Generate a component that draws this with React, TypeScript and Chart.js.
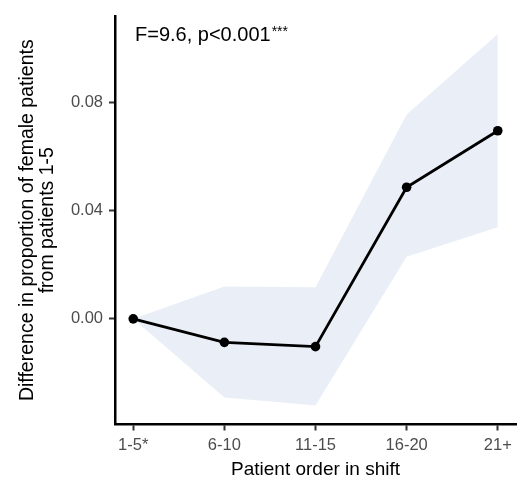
import React, { useEffect, useRef } from "react";
import { Chart, registerables } from "chart.js";

Chart.register(...registerables);

const categories = ["1-5*", "6-10", "11-15", "16-20", "21+"];
const estimate = [0, -0.0087, -0.0103, 0.0487, 0.0696];
const upperCI = [0, 0.012, 0.0117, 0.0756, 0.1054];
const lowerCI = [0, -0.0291, -0.0321, 0.023, 0.0339];
const yTicks = [0, 0.04, 0.08];
const annotationMain = "F=9.6, p<0.001";
const annotationStars = "***";
const xTitle = "Patient order in shift";
const yTitle = ["Difference in proportion of female patients", "from patients 1-5"];

const FONT = "'Liberation Sans', Arial, Helvetica, sans-serif";

const toPts = (arr: number[]) => arr.map((v, i) => ({ x: i, y: v }));

export default function App() {
  const ref = useRef<HTMLCanvasElement | null>(null);

  useEffect(() => {
    const canvas = ref.current;
    if (!canvas) return;

    const annotationPlugin = {
      id: "annot",
      afterDraw(chart: any) {
        const { ctx, chartArea } = chart;
        ctx.save();
        ctx.fillStyle = "#000000";
        ctx.textBaseline = "alphabetic";
        ctx.textAlign = "left";
        ctx.font = `20px ${FONT}`;
        const x0 = chartArea.left + 20;
        const y0 = chartArea.top + 25;
        ctx.fillText(annotationMain, x0, y0);
        const w = ctx.measureText(annotationMain).width;
        ctx.font = `14px ${FONT}`;
        ctx.fillText(annotationStars, x0 + w + 1, y0 - 5);
        ctx.restore();
      },
    };

    const chart = new Chart(canvas, {
      type: "line",
      data: {
        datasets: [
          {
            label: "upper",
            data: toPts(upperCI),
            borderWidth: 0,
            borderColor: "rgba(0,0,0,0)",
            pointRadius: 0,
            backgroundColor: "#EAEFF7",
            fill: "+1",
            tension: 0,
            order: 3,
          },
          {
            label: "lower",
            data: toPts(lowerCI),
            borderWidth: 0,
            borderColor: "rgba(0,0,0,0)",
            pointRadius: 0,
            fill: false,
            tension: 0,
            order: 2,
          },
          {
            label: "estimate",
            data: toPts(estimate),
            borderColor: "#000000",
            borderWidth: 2.8,
            pointRadius: 4.8,
            pointBackgroundColor: "#000000",
            pointBorderColor: "#000000",
            pointBorderWidth: 0,
            fill: false,
            tension: 0,
            order: 1,
          },
        ],
      },
      options: {
        animation: false,
        responsive: false,
        devicePixelRatio: 1,
        layout: { padding: { top: 10, right: 13, left: 0, bottom: 0 } },
        plugins: {
          legend: { display: false },
          tooltip: { enabled: false },
        },
        scales: {
          x: {
            type: "linear",
            min: -0.2,
            max: 4.2,
            afterFit(scale: any) {
              scale.height = 60.5;
            },
            afterBuildTicks(scale: any) {
              scale.ticks = categories.map((_, i) => ({ value: i }));
            },
            ticks: {
              color: "#4D4D4D",
              font: { family: FONT, size: 16.5 },
              padding: 5,
              maxRotation: 0,
              autoSkip: false,
              callback: (v: any) => categories[Number(v)] ?? "",
            },
            grid: {
              drawOnChartArea: false,
              drawTicks: true,
              tickLength: 6,
              tickWidth: 2,
              tickColor: "#333333",
            },
            border: { display: true, color: "#000000", width: 2.5 },
            title: {
              display: true,
              text: xTitle,
              color: "#000000",
              font: { family: FONT, size: 19 },
              padding: { top: 0, bottom: 3.5 },
            },
          },
          y: {
            type: "linear",
            min: -0.0391,
            max: 0.1121,
            afterFit(scale: any) {
              scale.width = 115;
            },
            afterBuildTicks(scale: any) {
              scale.ticks = yTicks.map((v) => ({ value: v }));
            },
            ticks: {
              color: "#4D4D4D",
              font: { family: FONT, size: 16.5 },
              padding: 6,
              callback: (v: any) => Number(v).toFixed(2),
            },
            grid: {
              drawOnChartArea: false,
              drawTicks: true,
              tickLength: 6,
              tickWidth: 2,
              tickColor: "#333333",
            },
            border: { display: true, color: "#000000", width: 2.5 },
            title: {
              display: true,
              text: yTitle,
              color: "#000000",
              font: { family: FONT, size: 19.5, lineHeight: 1.05 },
              padding: { top: 17, bottom: 0 },
            },
          },
        },
      },
      plugins: [annotationPlugin],
    } as any);

    return () => chart.destroy();
  }, []);

  return (
    <div style={{ position: "fixed", left: 0, top: 0, width: 529, height: 485, background: "#ffffff" }}>
      <canvas ref={ref} width={529} height={485} style={{ width: 529, height: 485, display: "block" }} />
    </div>
  );
}
